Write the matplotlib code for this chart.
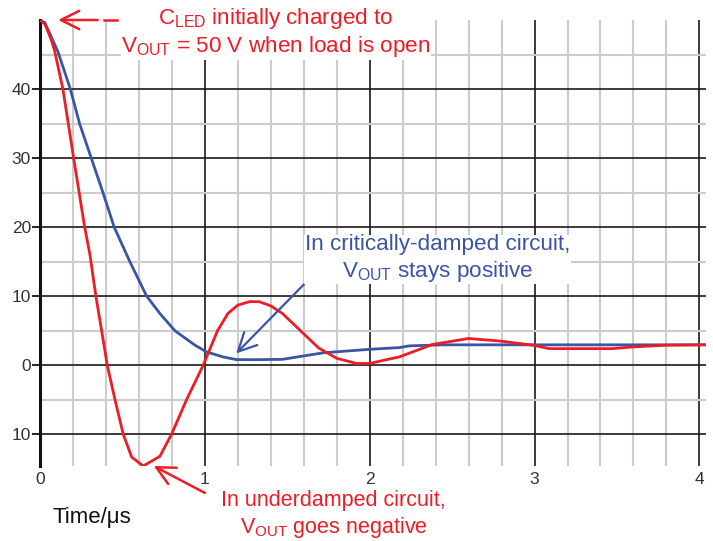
import numpy as np
import matplotlib
matplotlib.use('Agg')
import matplotlib.pyplot as plt
from matplotlib.ticker import MultipleLocator, FixedLocator, FuncFormatter

plt.rcParams['font.family'] = ['Liberation Sans', 'DejaVu Sans']
plt.rcParams['mathtext.default'] = 'regular'

# underdamped response (red): time in us, voltage in V
t_under = [0.0, 0.03, 0.069, 0.089, 0.139, 0.204, 0.271, 0.303, 0.339, 0.374,
           0.408, 0.455, 0.505, 0.556, 0.626, 0.727, 0.798, 0.889, 0.99, 1.077,
           1.14, 1.2, 1.27, 1.33, 1.40, 1.47, 1.58, 1.69, 1.80, 1.92, 2.0, 2.12,
           2.18, 2.38, 2.6, 2.79, 2.99, 3.09, 3.47, 3.6, 3.8, 4.03]
v_under = [50, 49.4, 47.1, 45.5, 40, 30, 20, 16, 10, 5,
           0, -5, -10, -13.3, -14.6, -13.2, -10, -5, 0, 5,
           7.5, 8.7, 9.2, 9.2, 8.6, 7.5, 5, 2.5, 1.0, 0.25, 0.25, 0.9,
           1.2, 3.0, 3.87, 3.5, 2.9, 2.4, 2.4, 2.65, 2.9, 2.95]

# critically damped response (blue)
t_crit = [0.0, 0.03, 0.06, 0.109, 0.184, 0.24, 0.311, 0.382, 0.45, 0.545, 0.647,
          0.727, 0.818, 0.94, 1.01, 1.11, 1.19, 1.3, 1.47, 1.72, 2.0, 2.18, 2.24,
          2.44, 4.03]
v_crit = [50, 49.6, 48, 45.4, 40, 35, 30, 25, 20, 15, 10,
          7.5, 5, 2.9, 1.93, 1.2, 0.82, 0.8, 0.85, 1.8, 2.3, 2.55, 2.8,
          2.95, 2.95]

x_ticks = [0, 1, 2, 3, 4]
y_ticks = [-10, 0, 10, 20, 30, 40]
y_minor = [-5, 5, 15, 25, 35, 45]

red = '#ee1c24'
blue = '#3a55a6'

fig = plt.figure(figsize=(7.13, 5.41), dpi=100)
ax = fig.add_axes([40/713, 1 - 466/541, 666/713, 446/541])

ax.set_xlim(0, 4.04)
ax.set_ylim(-14.6, 50)

# grid: light minor lines, black major lines
ax.xaxis.set_major_locator(FixedLocator(x_ticks))
ax.xaxis.set_minor_locator(MultipleLocator(0.2))
ax.yaxis.set_major_locator(FixedLocator(y_ticks))
ax.yaxis.set_minor_locator(FixedLocator(y_minor))
ax.grid(which='minor', color='#cccccc', lw=1.5)
ax.grid(which='major', color='#1a1a1a', lw=1.2)
ax.set_axisbelow(True)

ax.yaxis.set_major_formatter(FuncFormatter(lambda v, p: '%d' % abs(v)))
ax.tick_params(axis='x', which='both', length=0, pad=4, labelsize=12.5, labelcolor='#333333')
ax.tick_params(axis='y', which='major', length=6, width=1.2, pad=0.5, labelsize=12.5,
               labelcolor='#333333')
ax.tick_params(axis='y', which='minor', length=0)

for s in ['top', 'right', 'bottom']:
    ax.spines[s].set_visible(False)
ax.spines['left'].set_linewidth(2.2)
ax.spines['left'].set_color('#111111')

ax.plot(t_crit, v_crit, color=blue, lw=2, zorder=3)
ax.plot(t_under, v_under, color=red, lw=2, zorder=4)

fs = 16.2
arrow_style = '->, head_length=0.6, head_width=0.3'

# top annotation with dashed arrow
ax.annotate('', xy=(0.11, 50), xytext=(0.35, 50), annotation_clip=False,
            arrowprops=dict(arrowstyle=arrow_style, color=red, lw=1.8,
                            shrinkA=0, shrinkB=0, mutation_scale=22))
ax.plot([0.39, 0.47], [50, 50], color=red, lw=1.8, clip_on=False)
ax.text(1.43, 48.2, '$C_{LED}$ initially charged to\n$V_{OUT}$ = 50 V when load is open',
        color=red, fontsize=fs, ha='center', va='center', multialignment='center',
        bbox=dict(facecolor='white', edgecolor='none', pad=0.5), zorder=5)

# critically damped annotation
ax.annotate('In critically-damped circuit,\n$V_{OUT}$ stays positive', xy=(1.19, 1.7),
            xytext=(2.41, 15.4), color=blue, fontsize=fs, ha='center', va='center',
            multialignment='center', zorder=5,
            bbox=dict(facecolor='white', edgecolor='none', pad=0.5),
            arrowprops=dict(arrowstyle=arrow_style, color=blue, lw=1.6,
                            shrinkA=0, shrinkB=0, relpos=(0.0, 0.0), mutation_scale=22))

# underdamped annotation
ax.annotate('In underdamped circuit,\n$V_{OUT}$ goes negative', xy=(1.78, -21.7),
            color=red, fontsize=15.5, ha='center', va='center', multialignment='center',
            annotation_clip=False)
ax.annotate('', xy=(0.69, -14.6), xytext=(1.0, -18.5), annotation_clip=False,
            arrowprops=dict(arrowstyle=arrow_style, color=red, lw=1.8,
                            shrinkA=0, shrinkB=0, mutation_scale=22))

fig.text(92/713, 1 - 518/541, 'Time/μs', fontsize=16, ha='center', va='center', color='#111111')

fig.savefig('out.png', dpi=100)
